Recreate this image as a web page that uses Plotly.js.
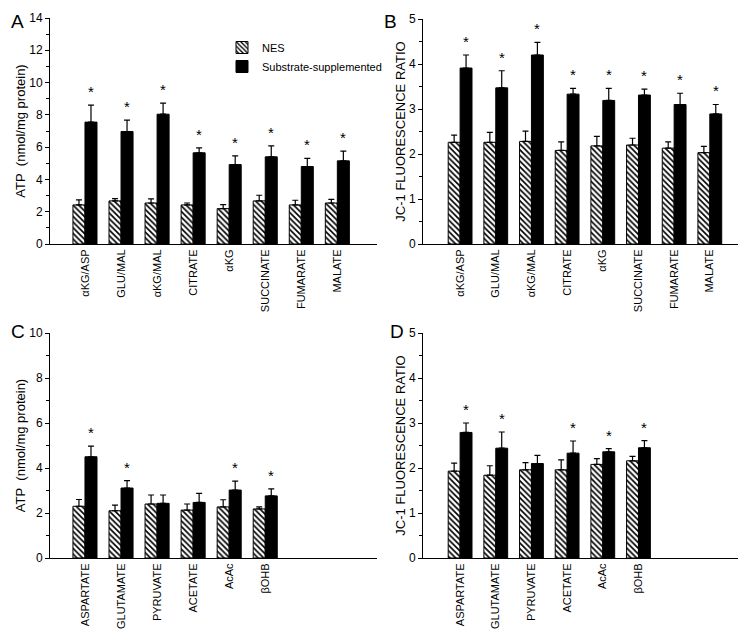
<!DOCTYPE html>
<html>
<head>
<meta charset="utf-8">
<script src="https://cdn.plot.ly/plotly-3.0.1.min.js"></script>
<style>html,body{margin:0;padding:0;background:#fff;}#chart{width:754px;height:640px;}</style>
</head>
<body>
<div id="chart"></div>
<script>
// ---- categories ----
const catsTop = ['\u03b1KG/ASP', 'GLU/MAL', '\u03b1KG/MAL', 'CITRATE', '\u03b1KG', 'SUCCINATE', 'FUMARATE', 'MALATE'];
const catsBottom = ['ASPARTATE', 'GLUTAMATE', 'PYRUVATE', 'ACETATE', 'AcAc', '\u03b2OHB'];

// ---- Panel A: ATP, TCA substrates ----
const aNES = [2.42, 2.67, 2.54, 2.42, 2.19, 2.67, 2.42, 2.54];
const aNESerr = [0.31, 0.14, 0.25, 0.12, 0.25, 0.35, 0.29, 0.23];
const aSub = [7.55, 6.97, 8.04, 5.65, 4.92, 5.40, 4.80, 5.15];
const aSubErr = [1.05, 0.70, 0.69, 0.31, 0.54, 0.68, 0.51, 0.60];
const aSig = [1, 1, 1, 1, 1, 1, 1, 1];

// ---- Panel B: JC-1 ratio, TCA substrates ----
const bNES = [2.26, 2.26, 2.28, 2.08, 2.18, 2.20, 2.13, 2.03];
const bNESerr = [0.16, 0.22, 0.23, 0.19, 0.21, 0.15, 0.14, 0.14];
const bSub = [3.91, 3.47, 4.20, 3.33, 3.19, 3.31, 3.10, 2.89];
const bSubErr = [0.29, 0.38, 0.28, 0.13, 0.27, 0.13, 0.25, 0.21];
const bSig = [1, 1, 1, 1, 1, 1, 1, 1];

// ---- Panel C: ATP, other substrates ----
const cNES = [2.30, 2.10, 2.40, 2.13, 2.27, 2.18];
const cNESerr = [0.30, 0.25, 0.40, 0.27, 0.32, 0.09];
const cSub = [4.50, 3.11, 2.43, 2.47, 3.02, 2.76];
const cSubErr = [0.47, 0.33, 0.37, 0.40, 0.40, 0.31];
const cSig = [1, 1, 0, 0, 1, 1];

// ---- Panel D: JC-1 ratio, other substrates ----
const dNES = [1.93, 1.84, 1.96, 1.96, 2.08, 2.16];
const dNESerr = [0.18, 0.21, 0.16, 0.22, 0.13, 0.10];
const dSub = [2.79, 2.44, 2.10, 2.33, 2.36, 2.45];
const dSubErr = [0.21, 0.36, 0.18, 0.27, 0.07, 0.16];
const dSig = [1, 1, 0, 1, 1, 1];

const FONT = 'Liberation Sans, Arial, Helvetica, sans-serif';
const W = 754, H = 640;
const BARGAP = 0.333;

function errObj(arr) {
  return {type: 'data', symmetric: false, array: arr, arrayminus: arr.map(() => 0),
          color: '#000', thickness: 1.2, width: 3};
}

const traces = [];
const annotations = [];

function addPanel(ax, cats, nes, nesErr, sub, subErr, sig, showLeg) {
  const xa = 'x' + (ax === 1 ? '' : ax), ya = 'y' + (ax === 1 ? '' : ax);
  traces.push({
    type: 'bar', name: 'NES', x: cats, y: nes, xaxis: xa, yaxis: ya,
    marker: {color: '#fff', line: {color: '#000', width: 1},
             pattern: {shape: '\\', fgcolor: '#000', bgcolor: '#fff', size: 4, solidity: 0.42}},
    error_y: errObj(nesErr), showlegend: showLeg, legendgroup: 'nes'
  });
  traces.push({
    type: 'bar', name: 'Substrate-supplemented', x: cats, y: sub, xaxis: xa, yaxis: ya,
    marker: {color: '#000', line: {color: '#000', width: 1}},
    error_y: errObj(subErr), showlegend: showLeg, legendgroup: 'sub'
  });
  const off = (1 - BARGAP) / 4;
  sig.forEach((s, i) => {
    if (!s) return;
    annotations.push({
      xref: xa, yref: ya, x: i + off, y: sub[i] + subErr[i], text: '*',
      showarrow: false, xanchor: 'center', yanchor: 'bottom', yshift: 3,
      font: {family: FONT, size: 15, color: '#000'}
    });
  });
}

addPanel(1, catsTop, aNES, aNESerr, aSub, aSubErr, aSig, true);
addPanel(2, catsTop, bNES, bNESerr, bSub, bSubErr, bSig, false);
addPanel(3, catsBottom, cNES, cNESerr, cSub, cSubErr, cSig, false);
addPanel(4, catsBottom, dNES, dNESerr, dSub, dSubErr, dSig, false);

// panel letters
[['A', 17, 21], ['B', 390, 21], ['C', 18, 331], ['D', 397, 331]].forEach(([t, px, py]) => {
  annotations.push({xref: 'paper', yref: 'paper', x: px / W, y: 1 - py / H, text: t,
    showarrow: false, xanchor: 'center', yanchor: 'middle',
    font: {family: FONT, size: 19, color: '#000'}});
});

function xAxis(l, r, range, anchor) {
  return {domain: [l / W, r / W], range: range, anchor: anchor, type: 'category',
    showline: true, linecolor: '#000', linewidth: 1, ticks: '', showgrid: false, zeroline: false,
    tickangle: -90, tickfont: {family: FONT, size: 11, color: '#000'}, fixedrange: true};
}
function yAxis(top, bottom, range, dtick, anchor, title) {
  return {domain: [1 - bottom / H, 1 - top / H], range: range, anchor: anchor,
    showline: true, linecolor: '#000', linewidth: 1, ticks: 'outside', ticklen: 4, tickwidth: 1,
    tickcolor: '#000', dtick: dtick, showgrid: false, zeroline: false,
    minor: {dtick: dtick / 2, ticks: 'outside', ticklen: 3, tickwidth: 1, tickcolor: '#000', showgrid: false},
    tickfont: {family: FONT, size: 12, color: '#000'},
    title: {text: title, font: {family: FONT, size: 13, color: '#000'}, standoff: 0}, fixedrange: true};
}

const atpTitle = 'ATP\u00a0\u00a0(nmol/mg protein)';
const jcTitle = 'JC-1 FLUORESCENCE RATIO';

const layout = {
  width: W, height: H, margin: {l: 0, r: 0, t: 0, b: 0},
  paper_bgcolor: '#fff', plot_bgcolor: '#fff',
  barmode: 'group', bargap: BARGAP, bargroupgap: 0,
  font: {family: FONT, color: '#000'},
  xaxis: xAxis(50, 377, [-0.97, 8.1], 'y'),
  yaxis: yAxis(18, 244, [0, 14], 2, 'x', atpTitle),
  xaxis2: xAxis(423, 738, [-1.04, 7.79], 'y2'),
  yaxis2: yAxis(19, 244, [0, 5], 1, 'x2', jcTitle),
  xaxis3: xAxis(50, 377, [-0.97, 8.1], 'y3'),
  yaxis3: yAxis(333, 558, [0, 10], 2, 'x3', atpTitle),
  xaxis4: xAxis(423, 738, [-1.04, 7.79], 'y4'),
  yaxis4: yAxis(333, 558, [0, 5], 1, 'x4', jcTitle),
  showlegend: true,
  legend: {x: 222 / W, y: 1 - 33 / H, xanchor: 'left', yanchor: 'top', bgcolor: 'rgba(0,0,0,0)',
           font: {family: FONT, size: 11, color: '#000'}, tracegroupgap: 0, itemwidth: 30},
  annotations: annotations
};

Plotly.newPlot('chart', traces, layout, {displayModeBar: false, staticPlot: true});
</script>
</body>
</html>
